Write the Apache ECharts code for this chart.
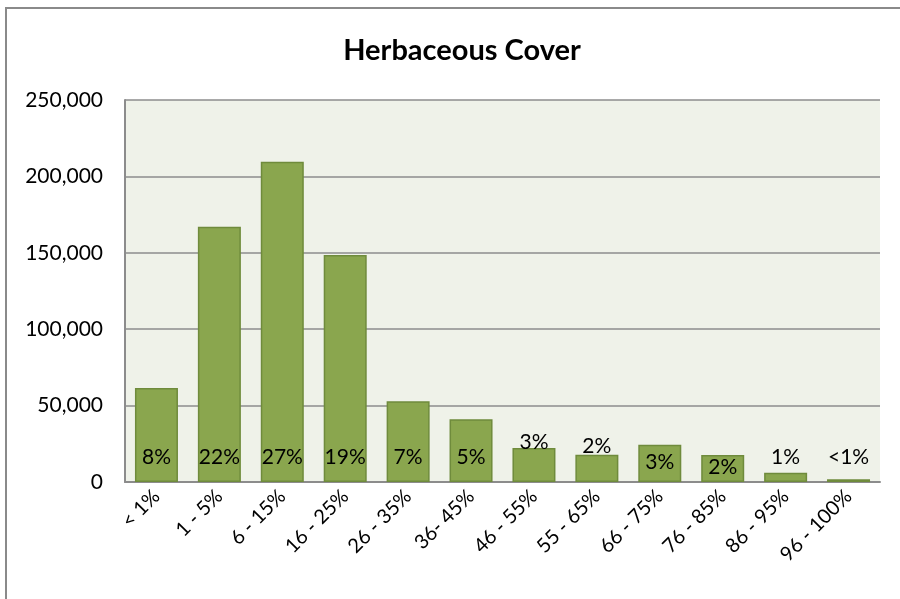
<!DOCTYPE html>
<html>
<head>
<meta charset="utf-8">
<title>Herbaceous Cover</title>
<script src="https://cdn.jsdelivr.net/npm/echarts@6/dist/echarts.min.js"></script>
<style>
  html, body { margin: 0; padding: 0; background: #ffffff; }
  #chart { width: 900px; height: 599px; }
</style>
</head>
<body>
<div id="chart"></div>
<script>
// Cover classes along the x axis
const categories = ['< 1%', '1 - 5%', '6 - 15%', '16 - 25%', '26 - 35%', '36- 45%',
  '46 - 55%', '55 - 65%', '66 - 75%', '76 - 85%', '86 - 95%', '96 - 100%'];

// Count per cover class
const counts = [61500, 167000, 209600, 148600, 52800, 41000,
  22300, 17900, 24300, 17600, 6100, 1800];

// Share of the total, as printed on each bar
const shareLabels = ['8%', '22%', '27%', '19%', '7%', '5%',
  '3%', '2%', '3%', '2%', '1%', '<1%'];

// Y axis ticks
const yTicks = [0, 50000, 100000, 150000, 200000, 250000];

// A few labels sit a little higher or lower than the rest
const labelShift = { 6: -15, 7: -11, 8: 5, 9: 10 };

const FONT = 'Lato, "Open Sans", sans-serif';

const chart = echarts.init(document.getElementById('chart'), null, { renderer: 'canvas' });

const barData = counts.map((v, i) => {
  const item = { value: v };
  if (labelShift[i] !== undefined) {
    item.label = { offset: [0, labelShift[i]] };
  }
  return item;
});

chart.setOption({
  animation: false,
  backgroundColor: '#ffffff',
  title: {
    text: 'Herbaceous Cover',
    left: 457,
    textAlign: 'center',
    top: 31,
    textStyle: { fontFamily: FONT, fontSize: 29, fontWeight: 'bold', color: '#000000' }
  },
  graphic: [{
    type: 'rect',
    silent: true,
    shape: { x: 6, y: 8, width: 1000, height: 1000 },
    style: { fill: 'none', stroke: '#8a8a8a', lineWidth: 2 }
  }],
  grid: {
    left: 125, right: 20, top: 100, bottom: 117,
    show: true,
    backgroundColor: '#eff2e9',
    borderWidth: 0
  },
  xAxis: {
    type: 'category',
    data: categories,
    axisLine: { show: true, lineStyle: { color: '#8c8c8c', width: 2 } },
    axisTick: { show: false },
    axisLabel: {
      rotate: 45,
      interval: 0,
      margin: 11,
      fontFamily: FONT,
      fontSize: 20,
      color: '#000000'
    }
  },
  yAxis: {
    type: 'value',
    min: yTicks[0],
    max: yTicks[yTicks.length - 1],
    interval: yTicks[1] - yTicks[0],
    axisLine: { show: true, lineStyle: { color: '#8c8c8c', width: 2 } },
    axisTick: { show: false },
    splitLine: { show: true, lineStyle: { color: '#8c8c8c', width: 1.5 } },
    axisLabel: {
      margin: 22,
      fontFamily: FONT,
      fontSize: 21,
      color: '#000000',
      formatter: v => v.toLocaleString('en-US')
    }
  },
  series: [{
    type: 'bar',
    data: barData,
    barWidth: 43,
    itemStyle: { color: '#8aa64e', borderColor: '#6f8b3c', borderWidth: 1.5 },
    label: {
      show: true,
      position: 'insideBottom',
      distance: 14,
      fontFamily: FONT,
      fontSize: 21,
      color: '#000000',
      formatter: p => shareLabels[p.dataIndex]
    }
  }]
});
</script>
</body>
</html>
